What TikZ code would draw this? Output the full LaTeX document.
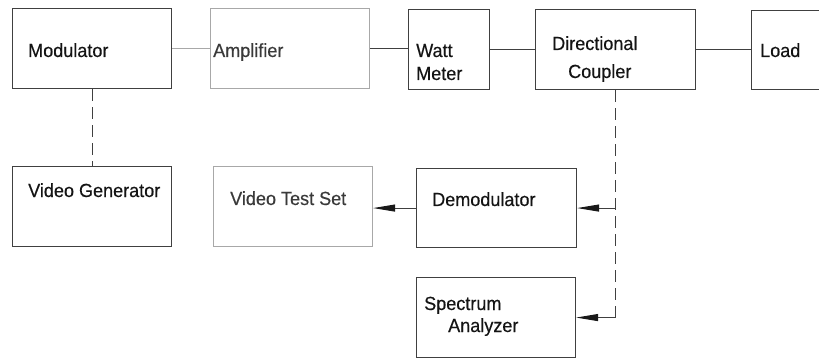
\documentclass[tikz,border=0pt]{standalone}
\usepackage{fontspec}
\setmainfont{Liberation Sans}
\usetikzlibrary{arrows.meta}
\definecolor{ln}{HTML}{404040}
\definecolor{lnfaint}{HTML}{A8A8A8}
\definecolor{txt}{HTML}{141414}
\definecolor{txtfaint}{HTML}{3A3A3A}
\newfontfamily\lblfont[FakeStretch=0.95,FakeBold=0.4]{Liberation Sans}
\tikzset{
  blk/.style={draw=ln, line width=1.1pt, inner sep=0pt, anchor=north west},
  blkfaint/.style={blk, draw=lnfaint},
  lbl/.style={anchor=base west, inner sep=0pt, text=txt, font=\lblfont\fontsize{19}{22}\selectfont},
  wire/.style={draw=ln, line width=1pt},
  dashwire/.style={wire, dash pattern=on 12pt off 6pt},
  arr/.style={wire, -{Triangle[length=22pt,width=7pt,fill=black!90,color=black!90]}}
}
\begin{document}
\begin{tikzpicture}[x=1pt,y=-1pt]
\useasboundingbox (0,0) rectangle (819,358);
\clip (0,0) rectangle (819,358);
% boxes
\node[blk, minimum width=159pt, minimum height=80pt] (mod) at (12,8) {};
\node[blkfaint, minimum width=159pt, minimum height=80pt] (amp) at (210,8) {};
\node[blk, minimum width=81pt, minimum height=80pt] (watt) at (408,9) {};
\node[blk, minimum width=160pt, minimum height=80pt] (dc) at (535,9) {};
\node[blk, minimum width=100pt, minimum height=79pt] (load) at (751,10) {};
\node[blk, minimum width=159pt, minimum height=80pt] (vg) at (12,166) {};
\node[blkfaint, minimum width=159pt, minimum height=80pt] (vts) at (213,166) {};
\node[blk, minimum width=160pt, minimum height=79pt] (dem) at (416,168) {};
\node[blk, minimum width=159pt, minimum height=80pt] (sa) at (416,277) {};
% labels
\node[lbl] (tmod) at (28,57) {Modulator};
\node[lbl, text=txtfaint] (tamp) at (213,57) {Amplifier};
\node[lbl] (twatt1) at (416,57) {Watt};
\node[lbl] (twatt2) at (416,80) {Meter};
\node[lbl] (tdc1) at (552,50) {Directional};
\node[lbl] (tdc2) at (568,78) {Coupler};
\node[lbl] (tload) at (760,57) {Load};
\node[lbl] (tvg) at (28,197) {Video Generator};
\node[lbl, text=txtfaint] (tvts) at (230,205) {Video Test Set};
\node[lbl] (tdem) at (432,206) {Demodulator};
\node[lbl] (tsa1) at (424,310) {Spectrum};
\node[lbl] (tsa2) at (448,332) {Analyzer};
% connectors
\draw[wire, draw=lnfaint] (mod.east) -- (amp.west);
\draw[wire] (amp.east) -- (amp.east -| watt.west);
\draw[wire] (watt.east) -- (dc.west);
\draw[wire] (dc.east) -- (dc.east -| load.west);
\draw[dashwire] (mod.south) -- (vg.north);
\coordinate (j1) at (dc.south |- dem.east);
\coordinate (j2) at (dc.south |- sa.east);
\draw[dashwire] (dc.south) -- (j2);
\draw[arr] (j1) -- (dem.east);
\draw[arr] (j2) -- (sa.east);
\draw[arr] (dem.west) -- (dem.west -| vts.east);
\end{tikzpicture}
\end{document}
